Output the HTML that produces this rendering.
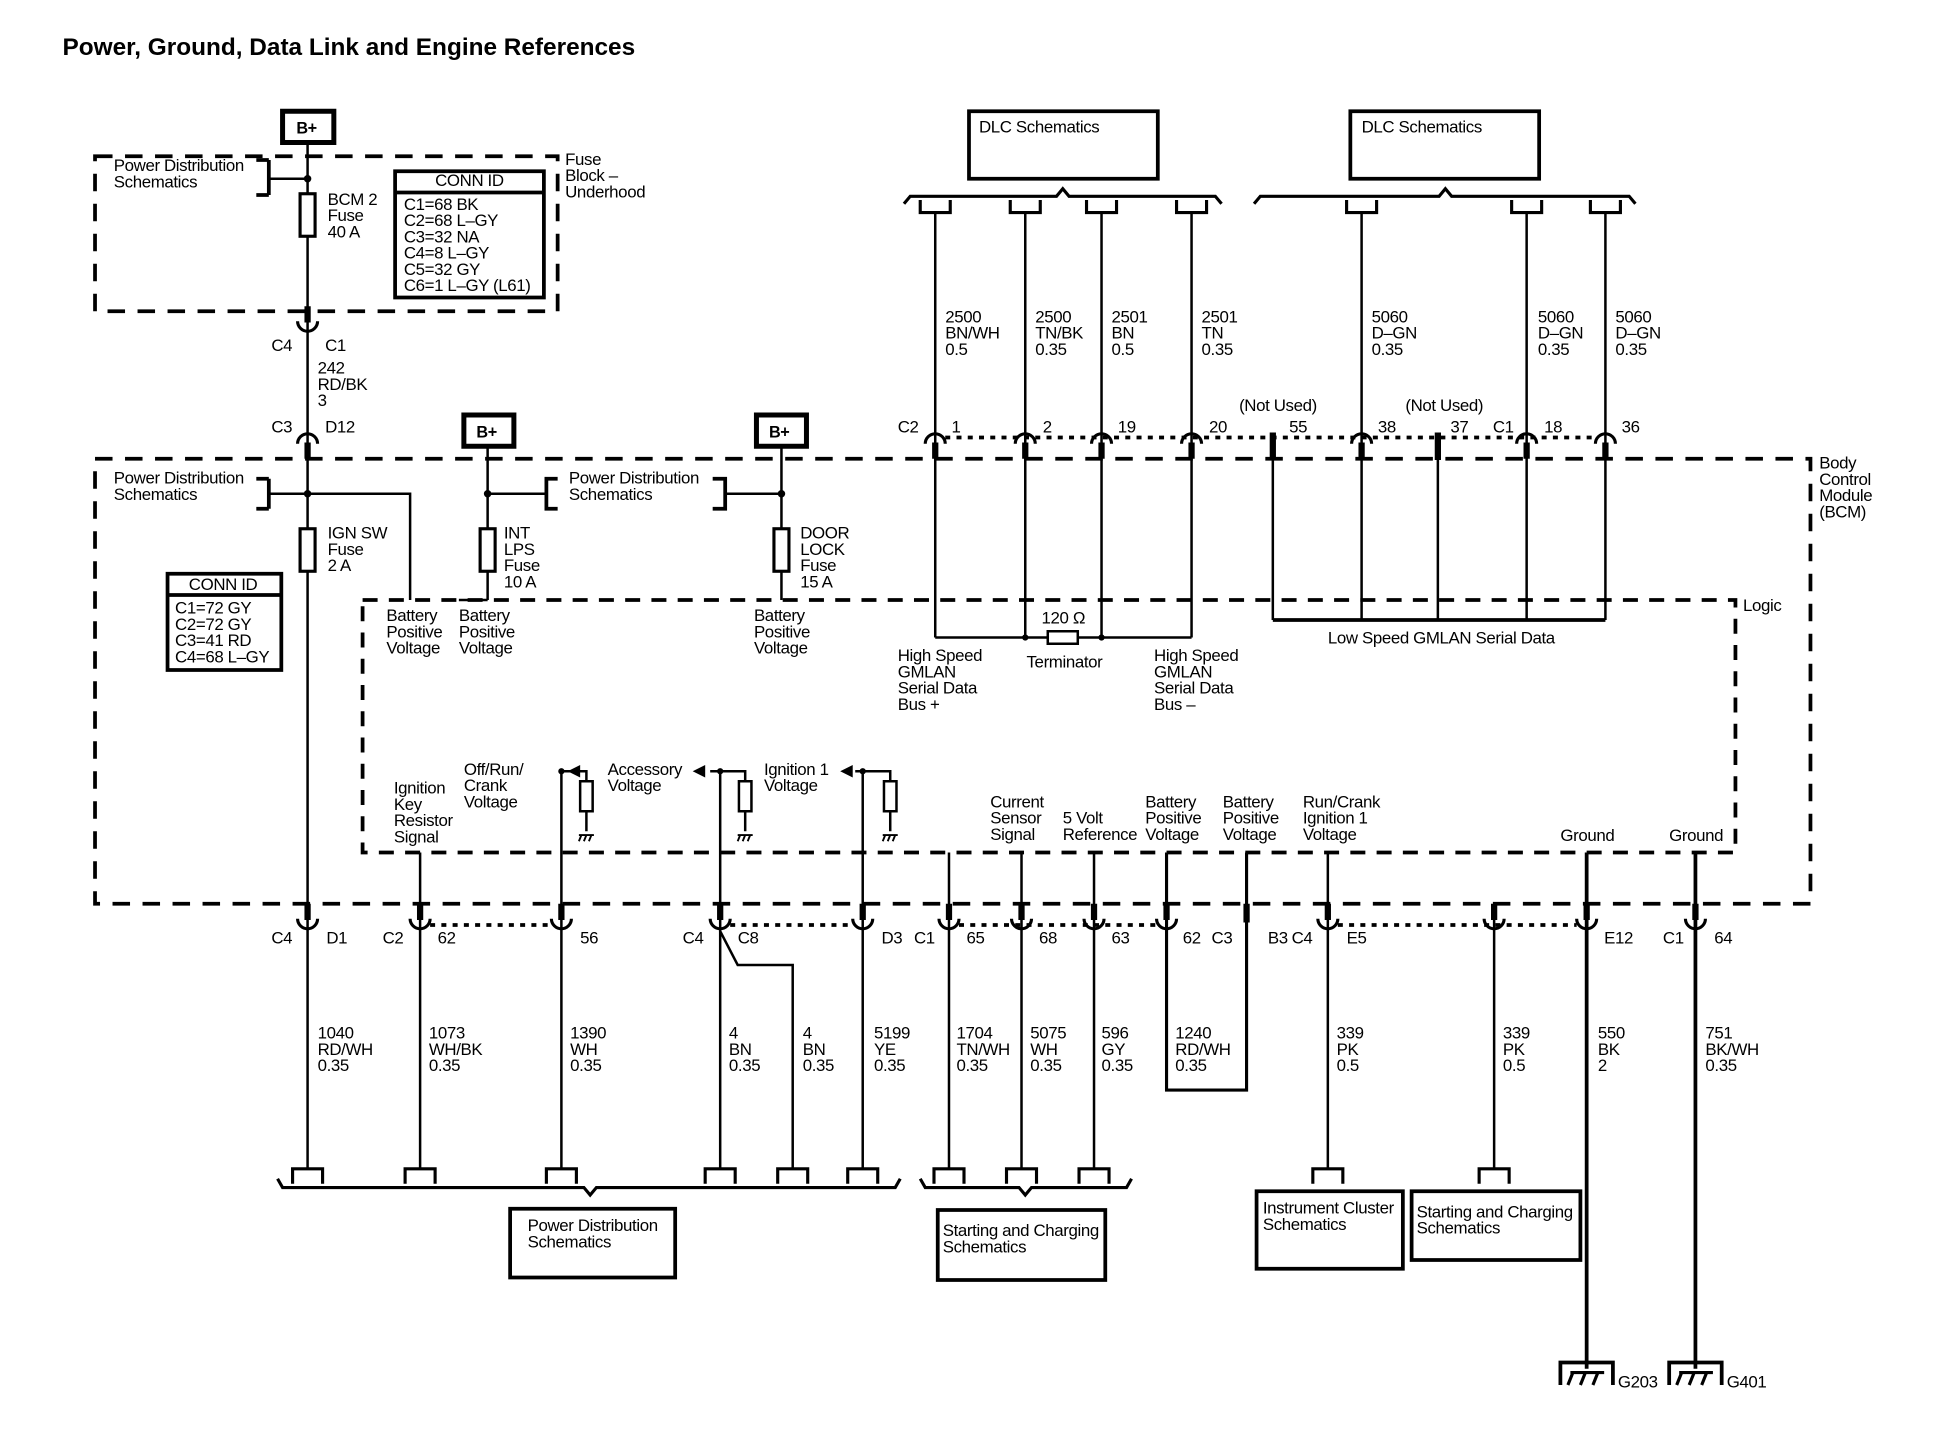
<!DOCTYPE html>
<html><head><meta charset="utf-8">
<style>
html,body{margin:0;padding:0;background:#fff;}
svg{display:block;}
text{font-family:"Liberation Sans",sans-serif;font-size:13.5px;fill:#000;letter-spacing:-0.3px;}
.t{font-size:19.5px;font-weight:bold;letter-spacing:0;}
.b{font-weight:bold;font-size:13px;}
</style></head><body>
<svg width="1958" height="1440" viewBox="0 0 1566 1152" preserveAspectRatio="none" xmlns="http://www.w3.org/2000/svg">
<defs>
<g id="cd"><path d="M-8,5 A8,8 0 0 1 8,5" fill="none" stroke="#000" stroke-width="2.5"/><line x1="0" y1="4" x2="0" y2="17" stroke="#000" stroke-width="5"/></g>
<g id="cu"><path d="M-8,-5 A8,8 0 0 0 8,-5" fill="none" stroke="#000" stroke-width="2.5"/><line x1="0" y1="-4" x2="0" y2="-17" stroke="#000" stroke-width="5"/></g>
<path id="tb" d="M-12,12 V0 H12 V12" fill="none" stroke="#000" stroke-width="2.5"/>
<path id="tt" d="M-12,-10 V0 H12 V-10" fill="none" stroke="#000" stroke-width="2.5"/>
</defs>
<g fill="none" stroke="#000" stroke-width="2">
<rect x="76" y="125" width="370" height="124" stroke-width="3" stroke-dasharray="14,10"/>
<rect x="76" y="367" width="1372" height="356" stroke-width="3" stroke-dasharray="14,10"/>
<rect x="290" y="480" width="1098" height="202" stroke-width="3" stroke-dasharray="12,9"/>
<rect x="226" y="89" width="41" height="25" stroke-width="4"/>
<rect x="371" y="332" width="40" height="25" stroke-width="4"/>
<rect x="605" y="332" width="40" height="25" stroke-width="4"/>
<line x1="246" y1="115" x2="246" y2="935"/>
<line x1="205" y1="128" x2="215" y2="128" stroke-width="3"/><line x1="215" y1="128" x2="215" y2="156" stroke-width="3"/><line x1="205" y1="156" x2="215" y2="156" stroke-width="3"/>
<line x1="215" y1="143" x2="246" y2="143"/>
<rect x="240" y="155" width="12" height="34" fill="#fff" stroke-width="2.5"/>
<rect x="316" y="137" width="119" height="101" stroke-width="3"/><line x1="316" y1="154" x2="435" y2="154" stroke-width="3"/>
<line x1="205" y1="383" x2="215" y2="383" stroke-width="3"/><line x1="215" y1="383" x2="215" y2="407" stroke-width="3"/><line x1="205" y1="407" x2="215" y2="407" stroke-width="3"/>
<polyline points="215,395 328,395 328,480"/>
<rect x="240" y="423" width="12" height="34" fill="#fff" stroke-width="2.5"/>
<rect x="134" y="459" width="91" height="77" stroke-width="3"/><line x1="134" y1="476" x2="225" y2="476" stroke-width="3"/>
<line x1="390" y1="358" x2="390" y2="480"/><line x1="390" y1="480" x2="367" y2="480"/>
<line x1="625" y1="358" x2="625" y2="480"/>
<polyline points="446,383 437,383 437,407 446,407" stroke-width="3"/>
<polyline points="570,383 580,383 580,407 570,407" stroke-width="3"/>
<line x1="390" y1="395" x2="437" y2="395"/><line x1="580" y1="395" x2="625" y2="395"/>
<rect x="384" y="423" width="12" height="34" fill="#fff" stroke-width="2.5"/>
<rect x="619" y="423" width="12" height="34" fill="#fff" stroke-width="2.5"/>
<rect x="775" y="89" width="151" height="54" stroke-width="3"/>
<rect x="1080" y="89" width="151" height="54" stroke-width="3"/>
<path d="M723,163 L728,157 H845 L850,151 L855,157 H972 L977,163" stroke-width="2.5"/>
<path d="M1003,163 L1008,157 H1151 L1156,151 L1161,157 H1303 L1308,163" stroke-width="2.5"/>
<line x1="748" y1="170" x2="748" y2="510"/><line x1="820" y1="170" x2="820" y2="510"/><line x1="881" y1="170" x2="881" y2="510"/><line x1="953" y1="170" x2="953" y2="510"/>
<line x1="748" y1="510" x2="838" y2="510"/><line x1="862" y1="510" x2="953" y2="510"/>
<rect x="838" y="505" width="24" height="10" fill="#fff"/>
<line x1="1089" y1="170" x2="1089" y2="496"/><line x1="1221" y1="170" x2="1221" y2="496"/><line x1="1284" y1="170" x2="1284" y2="496"/>
<line x1="1018" y1="346" x2="1018" y2="496"/><line x1="1150" y1="346" x2="1150" y2="496"/>
<line x1="1018" y1="346" x2="1018" y2="368" stroke-width="5"/><line x1="1150" y1="346" x2="1150" y2="368" stroke-width="5"/>
<line x1="1018" y1="496" x2="1284" y2="496" stroke-width="3"/>
<line x1="756" y1="350" x2="1276" y2="350" stroke-width="3" stroke-dasharray="4,5"/>
<line x1="336" y1="682" x2="336" y2="935"/>
<line x1="449" y1="617" x2="449" y2="935"/><polyline points="449,617 469,617 469,625"/><rect x="464" y="625" width="10" height="24"/><line x1="469" y1="649" x2="469" y2="665"/>
<line x1="576" y1="617" x2="576" y2="740"/><polyline points="576,617 596,617 596,625"/><rect x="591" y="625" width="10" height="24"/><line x1="596" y1="649" x2="596" y2="665"/>
<line x1="690" y1="617" x2="690" y2="935"/><polyline points="690,617 712,617 712,625"/><rect x="707" y="625" width="10" height="24"/><line x1="712" y1="649" x2="712" y2="665"/>
<line x1="449" y1="617" x2="462" y2="617"/><line x1="576" y1="617" x2="568" y2="617"/><line x1="690" y1="617" x2="684" y2="617"/>
<polyline points="576,740 576,745 590,772 634,772 634,935"/>
<line x1="576" y1="745" x2="576" y2="935"/>
<line x1="759" y1="682" x2="759" y2="935"/><line x1="817" y1="682" x2="817" y2="935"/><line x1="875" y1="682" x2="875" y2="935"/>
<polyline points="933,682 933,872 997,872 997,682" stroke-width="2.5"/>
<line x1="1062" y1="682" x2="1062" y2="935"/><line x1="1195" y1="735" x2="1195" y2="935"/>
<line x1="1269" y1="682" x2="1269" y2="1095" stroke-width="3"/><line x1="1356" y1="682" x2="1356" y2="1095" stroke-width="3"/>
<line x1="997" y1="723" x2="997" y2="738" stroke-width="5"/>
<line x1="344" y1="740" x2="441" y2="740" stroke-width="3" stroke-dasharray="4,5"/>
<line x1="584" y1="740" x2="682" y2="740" stroke-width="3" stroke-dasharray="4,5"/>
<line x1="767" y1="740" x2="925" y2="740" stroke-width="3" stroke-dasharray="4,5"/>
<line x1="1070" y1="740" x2="1261" y2="740" stroke-width="3" stroke-dasharray="4,5"/>
<path d="M222,943 L226,950 H467 L472,956 L477,950 H716 L720,943" stroke-width="2.5"/>
<path d="M736,943 L740,950 H815 L820,956 L825,950 H901 L905,943" stroke-width="2.5"/>
<rect x="408" y="967" width="132" height="55" stroke-width="3"/>
<rect x="750" y="968" width="134" height="56" stroke-width="3"/>
<rect x="1005" y="953" width="117" height="62" stroke-width="3"/>
<rect x="1129" y="953" width="135" height="55" stroke-width="3"/>
<polyline points="1248,1108 1248,1090 1290,1090 1290,1108" stroke-width="3"/>
<polyline points="1335,1108 1335,1090 1377,1090 1377,1108" stroke-width="3"/>
<path d="M1256,1098 H1283 M1258,1098 L1254,1108 M1268,1098 L1264,1108 M1278,1098 L1274,1108" stroke-width="2.5"/>
<path d="M1343,1098 H1370 M1345,1098 L1341,1108 M1355,1098 L1351,1108 M1365,1098 L1361,1108" stroke-width="2.5"/>
</g>
<g fill="#000">
<circle cx="246" cy="143" r="3"/><circle cx="246" cy="395" r="3"/><circle cx="390" cy="395" r="3"/><circle cx="625" cy="395" r="3"/>
<circle cx="449" cy="617" r="2.5"/><circle cx="576" cy="617" r="2.5"/><circle cx="690" cy="617" r="2.5"/>
<circle cx="820" cy="510" r="2.5"/><circle cx="881" cy="510" r="2.5"/>
<polygon points="454,617 464,612 464,622"/><polygon points="554,617 564,612 564,622"/><polygon points="672,617 682,612 682,622"/>
</g>
<g stroke="#000" fill="none" stroke-width="1.5">
<path d="M463,668 h12 M465,668 l-2,5 M469,668 l-2,5 M473,668 l-2,5"/>
<path d="M590,668 h12 M592,668 l-2,5 M596,668 l-2,5 M600,668 l-2,5"/>
<path d="M706,668 h12 M708,668 l-2,5 M712,668 l-2,5 M716,668 l-2,5"/>
</g>
<use href="#cu" x="246" y="262"/>
<use href="#cd" x="246" y="350"/>
<use href="#cd" x="748" y="350"/><use href="#cd" x="820" y="350"/><use href="#cd" x="881" y="350"/><use href="#cd" x="953" y="350"/>
<use href="#cd" x="1089" y="350"/><use href="#cd" x="1221" y="350"/><use href="#cd" x="1284" y="350"/>
<use href="#cu" x="246" y="740"/><use href="#cu" x="336" y="740"/><use href="#cu" x="449" y="740"/><use href="#cu" x="576" y="740"/><use href="#cu" x="690" y="740"/>
<use href="#cu" x="759" y="740"/><use href="#cu" x="817" y="740"/><use href="#cu" x="875" y="740"/><use href="#cu" x="933" y="740"/>
<use href="#cu" x="1062" y="740"/><use href="#cu" x="1195" y="740"/><use href="#cu" x="1269" y="740"/><use href="#cu" x="1356" y="740"/>
<use href="#tt" x="748" y="170"/><use href="#tt" x="820" y="170"/><use href="#tt" x="881" y="170"/><use href="#tt" x="953" y="170"/>
<use href="#tt" x="1089" y="170"/><use href="#tt" x="1221" y="170"/><use href="#tt" x="1284" y="170"/>
<use href="#tb" x="246" y="935"/><use href="#tb" x="336" y="935"/><use href="#tb" x="449" y="935"/><use href="#tb" x="576" y="935"/><use href="#tb" x="634" y="935"/><use href="#tb" x="690" y="935"/>
<use href="#tb" x="759" y="935"/><use href="#tb" x="817" y="935"/><use href="#tb" x="875" y="935"/><use href="#tb" x="1062" y="935"/><use href="#tb" x="1195" y="935"/>
<text x="50" y="44" class="t">Power, Ground, Data Link and Engine References</text>
<text x="237" y="107" class="b">B+</text><text x="381" y="350" class="b">B+</text><text x="615" y="350" class="b">B+</text>
<text x="91" y="137">Power Distribution</text><text x="91" y="150">Schematics</text>
<text x="262" y="164">BCM 2</text><text x="262" y="177">Fuse</text><text x="262" y="190">40 A</text>
<text x="348" y="149">CONN ID</text>
<text x="323" y="168">C1=68 BK</text><text x="323" y="181">C2=68 L–GY</text><text x="323" y="194">C3=32 NA</text><text x="323" y="207">C4=8 L–GY</text><text x="323" y="220">C5=32 GY</text><text x="323" y="233">C6=1 L–GY (L61)</text>
<text x="452" y="132">Fuse</text><text x="452" y="145">Block –</text><text x="452" y="158">Underhood</text>
<text x="217" y="281">C4</text><text x="260" y="281">C1</text>
<text x="254" y="299">242</text><text x="254" y="312">RD/BK</text><text x="254" y="325">3</text>
<text x="217" y="346">C3</text><text x="260" y="346">D12</text>
<text x="91" y="387">Power Distribution</text><text x="91" y="400">Schematics</text>
<text x="455" y="387">Power Distribution</text><text x="455" y="400">Schematics</text>
<text x="262" y="431">IGN SW</text><text x="262" y="444">Fuse</text><text x="262" y="457">2 A</text>
<text x="403" y="431">INT</text><text x="403" y="444">LPS</text><text x="403" y="457">Fuse</text><text x="403" y="470">10 A</text>
<text x="640" y="431">DOOR</text><text x="640" y="444">LOCK</text><text x="640" y="457">Fuse</text><text x="640" y="470">15 A</text>
<text x="151" y="472">CONN ID</text>
<text x="140" y="491">C1=72 GY</text><text x="140" y="504">C2=72 GY</text><text x="140" y="517">C3=41 RD</text><text x="140" y="530">C4=68 L–GY</text>
<text x="309" y="497">Battery</text><text x="309" y="510">Positive</text><text x="309" y="523">Voltage</text>
<text x="367" y="497">Battery</text><text x="367" y="510">Positive</text><text x="367" y="523">Voltage</text>
<text x="603" y="497">Battery</text><text x="603" y="510">Positive</text><text x="603" y="523">Voltage</text>
<text x="1455" y="375">Body</text><text x="1455" y="388">Control</text><text x="1455" y="401">Module</text><text x="1455" y="414">(BCM)</text>
<text x="1394" y="489">Logic</text>
<text x="783" y="106">DLC Schematics</text><text x="1089" y="106">DLC Schematics</text>
<text x="756" y="258">2500</text><text x="756" y="271">BN/WH</text><text x="756" y="284">0.5</text>
<text x="828" y="258">2500</text><text x="828" y="271">TN/BK</text><text x="828" y="284">0.35</text>
<text x="889" y="258">2501</text><text x="889" y="271">BN</text><text x="889" y="284">0.5</text>
<text x="961" y="258">2501</text><text x="961" y="271">TN</text><text x="961" y="284">0.35</text>
<text x="1097" y="258">5060</text><text x="1097" y="271">D–GN</text><text x="1097" y="284">0.35</text>
<text x="1230" y="258">5060</text><text x="1230" y="271">D–GN</text><text x="1230" y="284">0.35</text>
<text x="1292" y="258">5060</text><text x="1292" y="271">D–GN</text><text x="1292" y="284">0.35</text>
<text x="991" y="329">(Not Used)</text><text x="1124" y="329">(Not Used)</text>
<text x="718" y="346">C2</text><text x="761" y="346">1</text><text x="834" y="346">2</text><text x="894" y="346">19</text><text x="967" y="346">20</text>
<text x="1031" y="346">55</text><text x="1102" y="346">38</text><text x="1160" y="346">37</text><text x="1194" y="346">C1</text><text x="1235" y="346">18</text><text x="1297" y="346">36</text>
<text x="833" y="499">120 Ω</text><text x="821" y="534">Terminator</text>
<text x="718" y="529">High Speed</text><text x="718" y="542">GMLAN</text><text x="718" y="555">Serial Data</text><text x="718" y="568">Bus +</text>
<text x="923" y="529">High Speed</text><text x="923" y="542">GMLAN</text><text x="923" y="555">Serial Data</text><text x="923" y="568">Bus –</text>
<text x="1062" y="515">Low Speed GMLAN Serial Data</text>
<text x="315" y="635">Ignition</text><text x="315" y="648">Key</text><text x="315" y="661">Resistor</text><text x="315" y="674">Signal</text>
<text x="371" y="620">Off/Run/</text><text x="371" y="633">Crank</text><text x="371" y="646">Voltage</text>
<text x="486" y="620">Accessory</text><text x="486" y="633">Voltage</text>
<text x="611" y="620">Ignition 1</text><text x="611" y="633">Voltage</text>
<text x="792" y="646">Current</text><text x="792" y="659">Sensor</text><text x="792" y="672">Signal</text>
<text x="850" y="659">5 Volt</text><text x="850" y="672">Reference</text>
<text x="916" y="646">Battery</text><text x="916" y="659">Positive</text><text x="916" y="672">Voltage</text>
<text x="978" y="646">Battery</text><text x="978" y="659">Positive</text><text x="978" y="672">Voltage</text>
<text x="1042" y="646">Run/Crank</text><text x="1042" y="659">Ignition 1</text><text x="1042" y="672">Voltage</text>
<text x="1248" y="673">Ground</text><text x="1335" y="673">Ground</text>
<text x="217" y="755">C4</text><text x="261" y="755">D1</text><text x="306" y="755">C2</text><text x="350" y="755">62</text><text x="464" y="755">56</text>
<text x="546" y="755">C4</text><text x="590" y="755">C8</text><text x="705" y="755">D3</text><text x="731" y="755">C1</text><text x="773" y="755">65</text>
<text x="831" y="755">68</text><text x="889" y="755">63</text><text x="946" y="755">62</text><text x="969" y="755">C3</text>
<text x="1014" y="755">B3</text><text x="1033" y="755">C4</text><text x="1077" y="755">E5</text><text x="1283" y="755">E12</text><text x="1330" y="755">C1</text><text x="1371" y="755">64</text>
<text x="254" y="831">1040</text><text x="254" y="844">RD/WH</text><text x="254" y="857">0.35</text>
<text x="343" y="831">1073</text><text x="343" y="844">WH/BK</text><text x="343" y="857">0.35</text>
<text x="456" y="831">1390</text><text x="456" y="844">WH</text><text x="456" y="857">0.35</text>
<text x="583" y="831">4</text><text x="583" y="844">BN</text><text x="583" y="857">0.35</text>
<text x="642" y="831">4</text><text x="642" y="844">BN</text><text x="642" y="857">0.35</text>
<text x="699" y="831">5199</text><text x="699" y="844">YE</text><text x="699" y="857">0.35</text>
<text x="765" y="831">1704</text><text x="765" y="844">TN/WH</text><text x="765" y="857">0.35</text>
<text x="824" y="831">5075</text><text x="824" y="844">WH</text><text x="824" y="857">0.35</text>
<text x="881" y="831">596</text><text x="881" y="844">GY</text><text x="881" y="857">0.35</text>
<text x="940" y="831">1240</text><text x="940" y="844">RD/WH</text><text x="940" y="857">0.35</text>
<text x="1069" y="831">339</text><text x="1069" y="844">PK</text><text x="1069" y="857">0.5</text>
<text x="1202" y="831">339</text><text x="1202" y="844">PK</text><text x="1202" y="857">0.5</text>
<text x="1278" y="831">550</text><text x="1278" y="844">BK</text><text x="1278" y="857">2</text>
<text x="1364" y="831">751</text><text x="1364" y="844">BK/WH</text><text x="1364" y="857">0.35</text>
<text x="422" y="985">Power Distribution</text><text x="422" y="998">Schematics</text>
<text x="754" y="989">Starting and Charging</text><text x="754" y="1002">Schematics</text>
<text x="1010" y="971">Instrument Cluster</text><text x="1010" y="984">Schematics</text>
<text x="1133" y="974">Starting and Charging</text><text x="1133" y="987">Schematics</text>
<text x="1294" y="1110">G203</text><text x="1381" y="1110">G401</text>
</svg>
</body></html>
